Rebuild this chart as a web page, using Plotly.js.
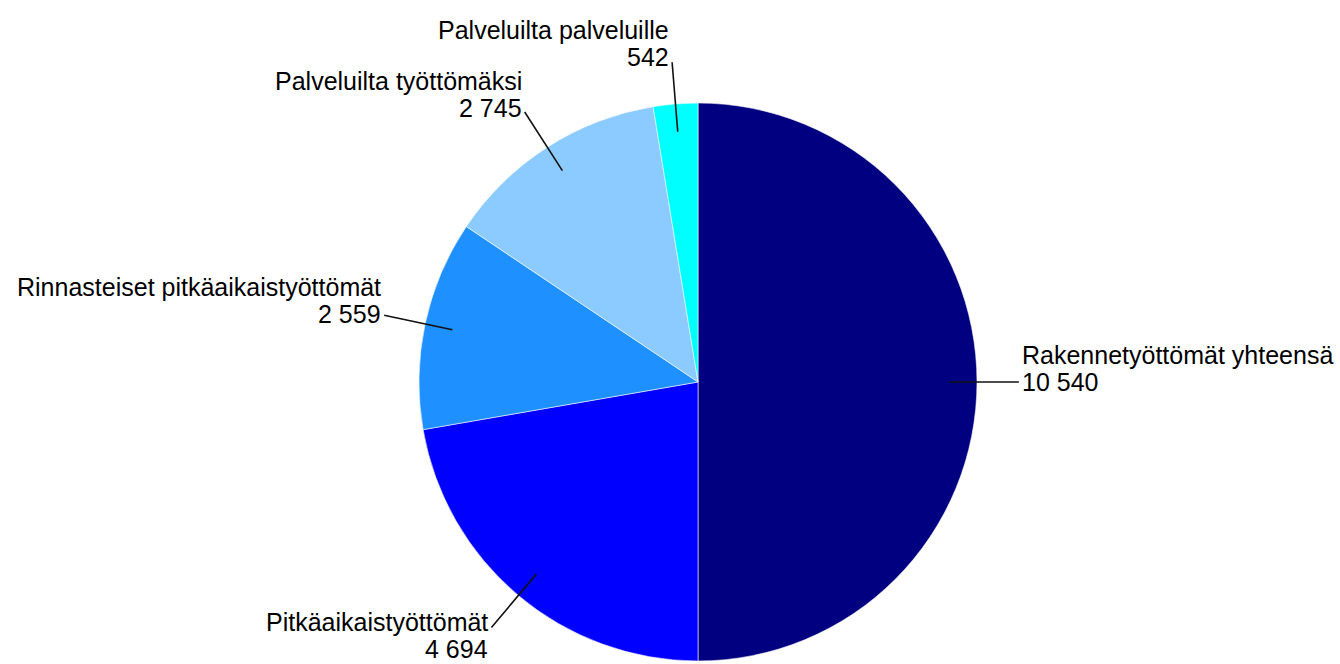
<!DOCTYPE html>
<html>
<head>
<meta charset="utf-8">
<script src="https://cdn.plot.ly/plotly-3.0.1.min.js"></script>
<style>html,body{margin:0;padding:0;background:#fff;}#chart{width:1340px;height:664px;}</style>
</head>
<body>
<div id="chart"></div>
<script>
// Data
var categories = ["Rakennetyöttömät yhteensä", "Pitkäaikaistyöttömät", "Rinnasteiset pitkäaikaistyöttömät", "Palveluilta työttömäksi", "Palveluilta palveluille"];
var values = [10540, 4694, 2559, 2745, 542];
var valueLabels = ["10 540", "4 694", "2 559", "2 745", "542"];
var colors = ["#000080", "#0000FF", "#1E90FF", "#8CCBFF", "#00FFFF"];

var W = 1340, H = 664;
var cx = 698, cy = 382, R = 279;
var domX = [(cx - R) / W, (cx + R) / W];
var domY = [1 - (cy + R) / H, 1 - (cy - R) / H];

var total = values.reduce(function (a, b) { return a + b; }, 0);
var shapes = [], annotations = [];
var cum = 0;
var fontSize = 25, lineGap = 27;
function px2x(px) { return px / W; }
function px2y(py) { return 1 - py / H; }

for (var i = 0; i < values.length; i++) {
  var mid = (cum + values[i] / 2) / total * 2 * Math.PI; // clockwise from top
  cum += values[i];
  var s = Math.sin(mid), c = Math.cos(mid);
  var ix = cx + 0.9 * R * s, iy = cy - 0.9 * R * c;
  var ox = cx + 1.15 * R * s, oy = cy - 1.15 * R * c;
  shapes.push({type: 'line', xref: 'paper', yref: 'paper',
    x0: px2x(ix), y0: px2y(iy), x1: px2x(ox), y1: px2y(oy),
    line: {color: '#111', width: 1.6}});
  var right = s > 0.05;
  var tx = right ? ox + 2 : ox - 2;
  var valY, nameY;
  if (c >= -0.05) { valY = oy - 5 * Math.max(c, 0); nameY = valY - lineGap; }
  else { nameY = oy - 5; valY = nameY + lineGap; }
  var anchor = right ? 'left' : 'right';
  var f = {family: 'Liberation Sans, Arial, sans-serif', size: fontSize, color: '#000'};
  annotations.push({xref: 'paper', yref: 'paper', x: px2x(tx), y: px2y(nameY),
    xanchor: anchor, yanchor: 'middle', showarrow: false, text: categories[i],
    borderpad: 0, font: f});
  annotations.push({xref: 'paper', yref: 'paper', x: px2x(tx), y: px2y(valY),
    xanchor: anchor, yanchor: 'middle', showarrow: false, text: valueLabels[i],
    borderpad: 0, font: f});
}

var trace = {
  type: 'pie', labels: categories, values: values, sort: false,
  direction: 'clockwise', rotation: 0, textinfo: 'none', hoverinfo: 'none',
  marker: {colors: colors, line: {color: 'rgba(255,255,255,0.8)', width: 0.7}},
  domain: {x: domX, y: domY}, showlegend: false
};

var layout = {
  width: W, height: H, margin: {l: 0, r: 0, t: 0, b: 0},
  paper_bgcolor: '#fff', plot_bgcolor: '#fff', showlegend: false,
  shapes: shapes, annotations: annotations
};
Plotly.newPlot('chart', [trace], layout, {displayModeBar: false, staticPlot: true});
</script>
</body>
</html>
